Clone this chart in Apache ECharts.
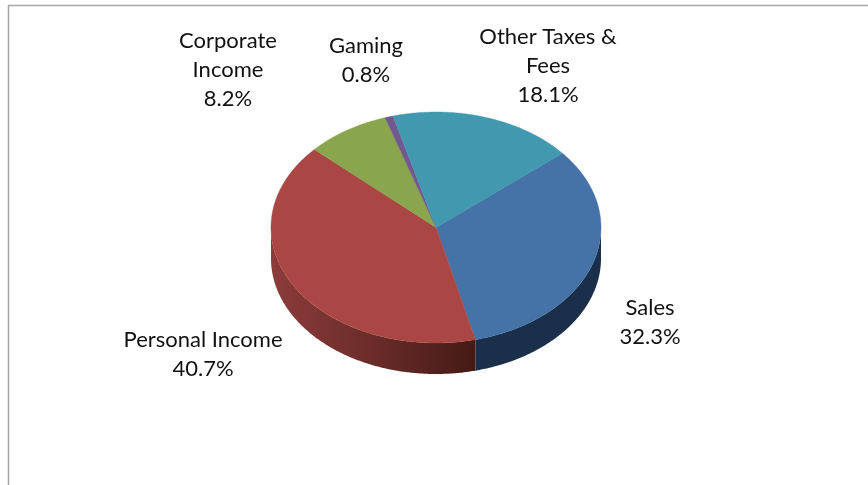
<!DOCTYPE html>
<html>
<head>
<meta charset="utf-8">
<style>html,body{margin:0;padding:0;background:#fff;overflow:hidden}#c{width:868px;height:485px}</style>
<script src="https://cdn.jsdelivr.net/npm/echarts@6/dist/echarts.min.js"></script>
</head>
<body>
<div id="c"></div>
<script>
const categories = ['Sales', 'Personal Income', 'Corporate\nIncome', 'Gaming', 'Other Taxes &\nFees'];
const shares = [32.3, 40.7, 8.2, 0.8, 18.1];

const topColors = ['#4572a7', '#aa4643', '#89a54e', '#71588f', '#4198af'];
const PIE = { cx: 436, cy: 227.5, rx: 165, ry: 115.5, depth: 31, startDeg: 50 };
const labelCentres = [[650, 322], [203, 354.5], [228, 70], [366, 60.5], [548, 66]];

const total = shares.reduce((a, b) => a + b, 0);
function sideFill(i) {
  if (i === 0) return '#1a2f4a';
  if (i === 1) {
    return new echarts.graphic.LinearGradient(271, 0, 475, 0, [
      { offset: 0, color: '#8c3c3a' },
      { offset: 0.5, color: '#6a2c2a' },
      { offset: 1, color: '#451a15' }
    ], true);
  }
  return topColors[i];
}
function pt(deg, dy) {
  const t = deg * Math.PI / 180;
  return [PIE.cx + PIE.rx * Math.sin(t), PIE.cy - PIE.ry * Math.cos(t) + (dy || 0)];
}
function arc(a0, a1, dy) {
  const pts = [];
  const n = Math.max(2, Math.ceil((a1 - a0) * 2));
  for (let k = 0; k <= n; k++) pts.push(pt(a0 + (a1 - a0) * k / n, dy));
  return pts;
}
function renderSlice(params, api) {
  const i = params.dataIndex;
  let before = 0;
  for (let k = 0; k < i; k++) before += shares[k];
  const a0 = PIE.startDeg + before / total * 360;
  const a1 = a0 + api.value(0) / total * 360;
  const children = [];
  const w0 = Math.max(a0, 90), w1 = Math.min(a1, 270);
  if (w1 > w0) {
    children.push({
      type: 'polygon',
      shape: { points: arc(w0, w1, 0).concat(arc(w0, w1, PIE.depth).reverse()) },
      style: { fill: sideFill(i) }
    });
  }
  children.push({
    type: 'polygon',
    shape: { points: [[PIE.cx, PIE.cy]].concat(arc(a0, a1, 0)) },
    style: { fill: topColors[i], stroke: topColors[i], lineWidth: 0.4 }
  });
  children.push({
    type: 'text',
    z2: 10,
    style: {
      x: labelCentres[i][0], y: labelCentres[i][1],
      text: categories[i] + '\n' + api.value(0).toFixed(1) + '%',
      fill: '#111', font: '22px Lato', align: 'center', verticalAlign: 'middle',
      lineHeight: 29
    }
  });
  return { type: 'group', children };
}
const chart = echarts.init(document.getElementById('c'), null, { renderer: 'canvas' });
chart.setOption({
  animation: false,
  backgroundColor: '#fff',
  graphic: [{
    type: 'rect', silent: true,
    shape: { x: 8.5, y: 5.5, width: 900, height: 520 },
    style: { fill: 'none', stroke: '#a6a6a6', lineWidth: 1.5 }
  }],
  series: [{
    type: 'custom',
    coordinateSystem: 'none',
    renderItem: renderSlice,
    data: shares.map((v, i) => ({ name: categories[i], value: [v] }))
  }]
});
</script>
</body>
</html>
